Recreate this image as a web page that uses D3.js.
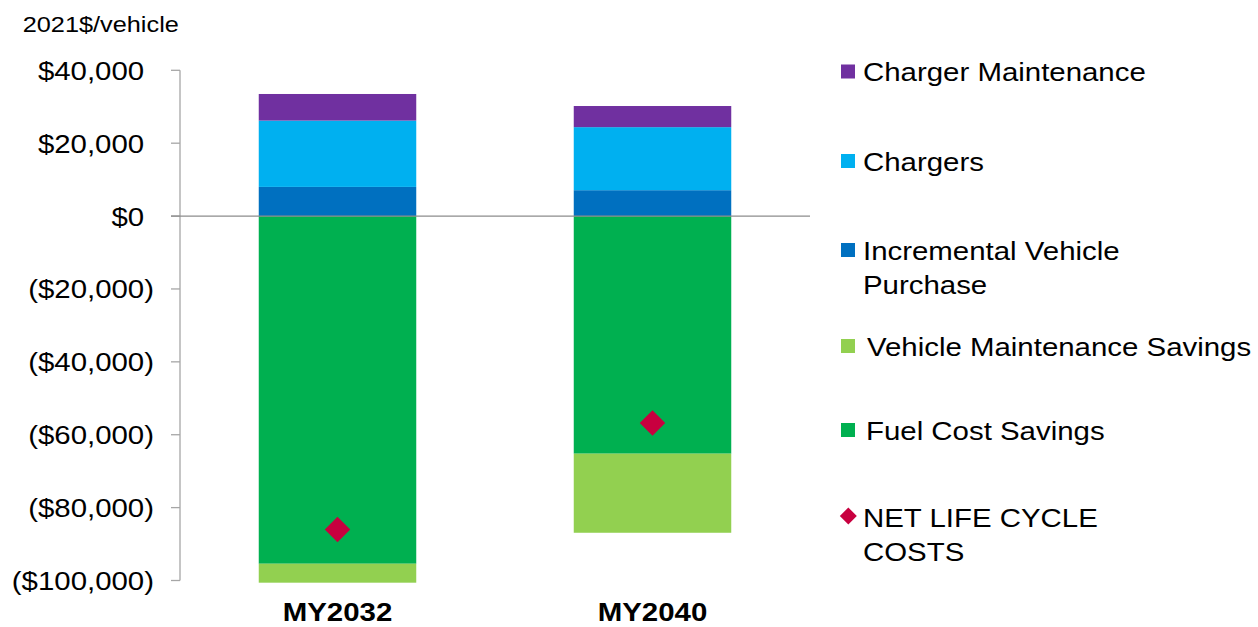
<!DOCTYPE html>
<html>
<head>
<meta charset="utf-8">
<script src="https://cdn.jsdelivr.net/npm/d3@7"></script>
<style>
  html, body { margin: 0; padding: 0; background: #fff; }
  svg { display: block; font-family: 'Liberation Sans', Arial, sans-serif; }
</style>
</head>
<body>
<svg id="chart"></svg>
<script>
// values (2021$ per vehicle)
const categories = ['MY2032', 'MY2040'];
const incrementalVehicle = [8000, 7100];
const chargers = [18200, 17300];
const chargerMaintenance = [7300, 5800];
const fuelSavings = [-95400, -65200];
const vehicleMaintSavings = [-5200, -21700];
const netLifeCycle = [-86000, -56800];
const yTicks = [40000, 20000, 0, -20000, -40000, -60000, -80000, -100000];

const series = [
  {key: 'incremental', name: ['Incremental Vehicle', 'Purchase'], values: incrementalVehicle, color: '#0070C0'},
  {key: 'chargers', name: ['Chargers'], values: chargers, color: '#00B0F0'},
  {key: 'chargerMaint', name: ['Charger Maintenance'], values: chargerMaintenance, color: '#7030A0'},
  {key: 'fuel', name: ['Fuel Cost Savings'], values: fuelSavings, color: '#00B050'},
  {key: 'vehMaint', name: ['Vehicle Maintenance Savings'], values: vehicleMaintSavings, color: '#92D050'},
];
const diamondColor = '#C8003F';

const width = 1258;
const height = 627;
const sx = 1.11; // the source text is a bit wider than plain Arial

const svg = d3.select('#chart').attr('width', width).attr('height', height);

const x = d3.scaleBand()
    .domain(categories)
    .range([180, 810])
    .paddingInner(0.5)
    .paddingOuter(0.25);

const y = d3.scaleLinear()
    .domain([-100000, 40000])
    .range([580.5, 70.3]);

function label(parent, px, py, str, size, anchor, weight) {
  return parent.append('text')
      .attr('transform', 'translate(' + px + ',' + py + ') scale(' + sx + ',1)')
      .attr('text-anchor', anchor || 'start')
      .style('font-size', size + 'px')
      .style('font-weight', weight || 'normal')
      .style('fill', '#000')
      .text(str);
}

// stacked data
const table = categories.map(function(c, i) {
  const row = {cat: c};
  series.forEach(function(s) {
    row[s.key] = s.values[i];
  });
  return row;
});

const stacked = d3.stack()
    .keys(series.map((s) => s.key))
    .offset(d3.stackOffsetDiverging)(table);

// bars
svg.append('g').selectAll('g')
    .data(stacked)
    .join('g')
    .attr('fill', (d, i) => series[i].color)
    .selectAll('rect')
    .data((d) => d)
    .join('rect')
    .attr('x', (d) => x(d.data.cat))
    .attr('width', x.bandwidth())
    .attr('y', (d) => y(Math.max(d[0], d[1])))
    .attr('height', (d) => Math.abs(y(d[0]) - y(d[1])));

// axis
const axisColor = '#A6A6A6';
const axis = svg.append('g');
axis.append('line')
    .attr('x1', 180).attr('x2', 180)
    .attr('y1', y(40000)).attr('y2', y(-100000))
    .attr('stroke', axisColor).attr('stroke-width', 1.3);
axis.selectAll('.tick')
    .data(yTicks)
    .join('line')
    .attr('class', 'tick')
    .attr('x1', 171).attr('x2', 180)
    .attr('y1', (d) => y(d)).attr('y2', (d) => y(d))
    .attr('stroke', axisColor).attr('stroke-width', 1.3);
axis.append('line')
    .attr('x1', 171).attr('x2', 810)
    .attr('y1', y(0)).attr('y2', y(0))
    .attr('stroke', '#8C8C8C').attr('stroke-width', 1.3);

const fmt = d3.format(',');
yTicks.forEach(function(v) {
  const t = label(svg, 154, y(v) + 9.5, null, 26.5, 'end');
  if (v < 0) {
    t.text('($' + fmt(-v) + ')');
  } else {
    t.text('$' + fmt(v));
    t.append('tspan').attr('fill-opacity', 0).text(')');
  }
});

label(svg, 22.7, 32, '2021$/vehicle', 22.8);

// category labels
categories.forEach(function(c) {
  label(svg, x(c) + x.bandwidth() / 2, 621, c, 26.5, 'middle', 'bold');
});

// net life cycle diamonds
const diamond = d3.symbol().type(d3.symbolSquare);
svg.append('g').selectAll('path')
    .data(netLifeCycle)
    .join('path')
    .attr('d', diamond.size(18 * 18)())
    .attr('transform', (d, i) => 'translate(' + (x(categories[i]) + x.bandwidth() / 2) + ',' + y(d) + ') rotate(45)')
    .attr('fill', diamondColor);

// legend
const legend = [
  {s: series[2], y: 71.5, tx: 863},
  {s: series[1], y: 161, tx: 863},
  {s: series[0], y: 250, tx: 863},
  {s: series[4], y: 346, tx: 867},
  {s: series[3], y: 430, tx: 866},
];
const lg = svg.append('g');
legend.forEach(function(l) {
  lg.append('rect')
      .attr('x', 841).attr('y', l.y - 7)
      .attr('width', 14).attr('height', 14)
      .attr('fill', l.s.color);
  l.s.name.forEach(function(line, j) {
    label(lg, l.tx, l.y + 9.5 + j * 34.5, line, 26.5);
  });
});
lg.append('path')
    .attr('d', diamond.size(12 * 12)())
    .attr('transform', 'translate(848.3,516) rotate(45)')
    .attr('fill', diamondColor);
label(lg, 863, 526.5, 'NET LIFE CYCLE', 26.5);
label(lg, 863, 560.5, 'COSTS', 26.5);
</script>
</body>
</html>
